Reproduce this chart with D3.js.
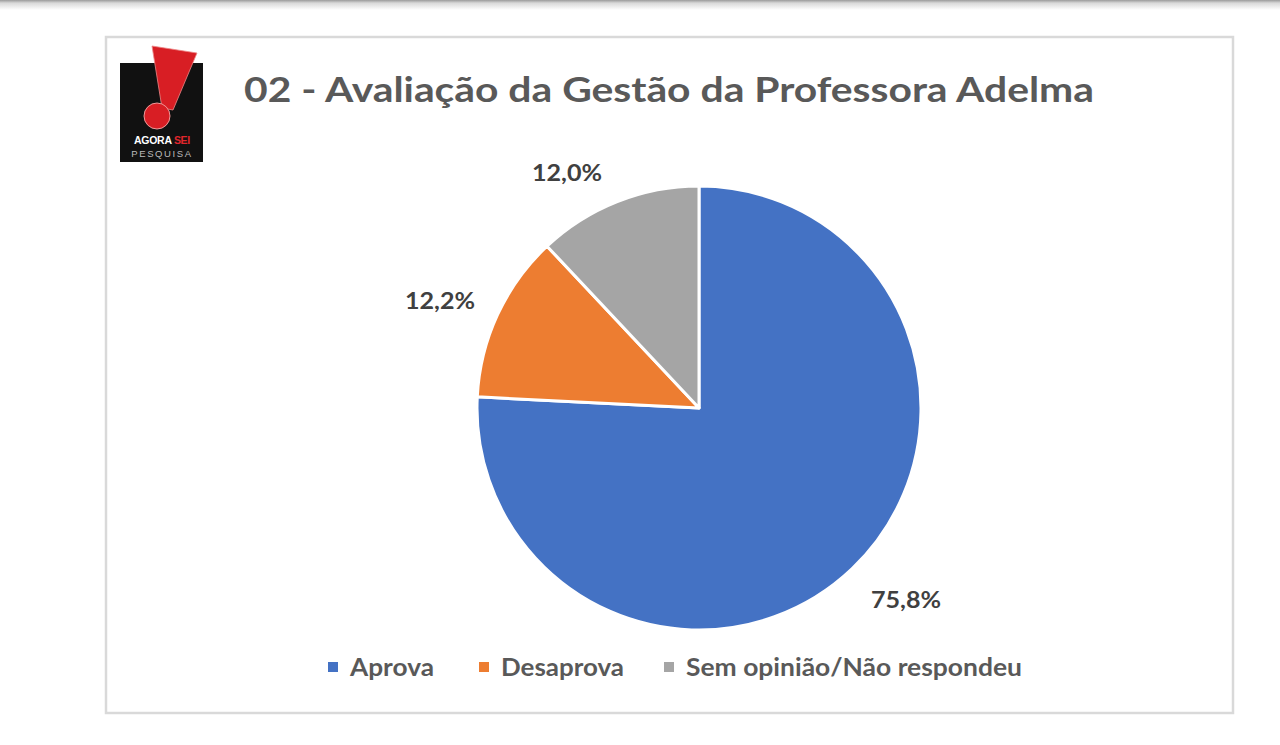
<!DOCTYPE html>
<html><head><meta charset="utf-8">
<script src="https://cdn.jsdelivr.net/npm/d3@7"></script>
<style>html,body{margin:0;padding:0;background:#fff;overflow:hidden}</style>
</head><body>
<svg id="c" width="1280" height="745"></svg>
<script>
const categories = ["Aprova", "Desaprova", "Sem opinião/Não respondeu"];
const values = [75.8, 12.2, 12.0];
const valueLabels = ["75,8%", "12,2%", "12,0%"];
const colors = ["#4472C4", "#ED7D31", "#A5A5A5"];
const title = "02 - Avaliação da Gestão da Professora Adelma";

const svg = d3.select("#c");
const font = "Lato, 'Open Sans', sans-serif";

// top page shadow
const defs = svg.append("defs");
const g1 = defs.append("linearGradient").attr("id","sh").attr("x1",0).attr("y1",0).attr("x2",0).attr("y2",1);
g1.append("stop").attr("offset","0").attr("stop-color","#9a9a9a");
g1.append("stop").attr("offset","0.3").attr("stop-color","#d8d8d8");
g1.append("stop").attr("offset","1").attr("stop-color","#ffffff");
svg.append("rect").attr("x",0).attr("y",0).attr("width",1280).attr("height",10).attr("fill","url(#sh)");

// frame
svg.append("rect").attr("x",106).attr("y",37).attr("width",1127).attr("height",676)
  .attr("fill","#fff").attr("stroke","#d9d9d9").attr("stroke-width",2.5);

// logo
const logo = svg.append("g");
logo.append("rect").attr("x",120).attr("y",63).attr("width",83).attr("height",99).attr("fill","#111");
logo.append("path").attr("d","M152,46 L197,53 L173,110 L162,108 Z").attr("fill","#d81e24").attr("stroke","#e88").attr("stroke-width",0.8);
logo.append("circle").attr("cx",157).attr("cy",116).attr("r",13).attr("fill","#d81e24").attr("stroke","#e99").attr("stroke-width",1);
const t1 = logo.append("text").attr("x",162).attr("y",144).attr("text-anchor","middle")
  .attr("font-family","'Liberation Sans', Arial, sans-serif").attr("font-weight","bold").attr("font-size",10.5).attr("letter-spacing","-0.3");
t1.append("tspan").attr("fill","#fff").text("AGORA ");
t1.append("tspan").attr("fill","#e0262c").text("SEI");
logo.append("text").attr("x",162).attr("y",157).attr("text-anchor","middle")
  .attr("font-family","'Liberation Sans', Arial, sans-serif").attr("font-size",9.5).attr("letter-spacing","1.6")
  .attr("fill","#bbb").text("PESQUISA");

// title
svg.append("text").attr("x",244).attr("y",102).attr("font-family",font).attr("font-weight","bold")
  .attr("font-size",35).attr("fill","#595959").attr("textLength",850).attr("lengthAdjust","spacingAndGlyphs").text(title);

// pie
const cx = 699, cy = 408, r = 222;
const pie = d3.pie().sort(null).value(d => d);
const arcs = pie(values);
const arc = d3.arc().innerRadius(0).outerRadius(r);
const pg = svg.append("g").attr("transform",`translate(${cx},${cy})`);
pg.selectAll("path").data(arcs).join("path")
  .attr("d",arc).attr("fill",(d,i)=>colors[i]).attr("stroke","#fff").attr("stroke-width",3).attr("stroke-linejoin","round");

// data labels
const labelPos = [[906,608],[440,309],[567,181]];
svg.selectAll("text.lbl").data(arcs).join("text").attr("class","lbl")
  .attr("x",(d,i)=>labelPos[i][0]-35).attr("y",(d,i)=>labelPos[i][1])
  .attr("font-family",font).attr("font-weight","bold")
  .attr("font-size",23).attr("fill","#404040")
  .attr("textLength",70).attr("lengthAdjust","spacingAndGlyphs").text((d,i)=>valueLabels[i]);

// legend
const legX = [328, 479, 664];
const legW = [84, 123, 336];
const lg = svg.append("g");
categories.forEach((c,i)=>{
  lg.append("rect").attr("x",legX[i]).attr("y",662).attr("width",10).attr("height",10).attr("fill",colors[i]);
  lg.append("text").attr("x",legX[i]+22).attr("y",676).attr("font-family",font).attr("font-weight","bold")
    .attr("font-size",24).attr("fill","#595959")
    .attr("textLength",legW[i]).attr("lengthAdjust","spacingAndGlyphs").text(c);
});
</script>
</body></html>
